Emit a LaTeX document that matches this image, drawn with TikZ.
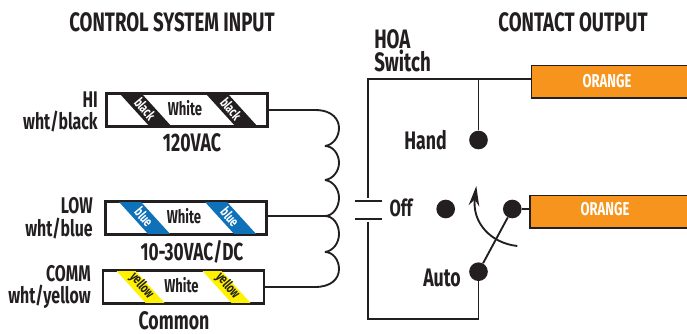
\documentclass[tikz,border=0pt]{standalone}
\usepackage{fontspec}
\setmainfont[FakeStretch=0.7]{Fira Sans}
\usepackage{tikz}
\usetikzlibrary{calc,arrows.meta}
\definecolor{cInk}{HTML}{231F20}
\definecolor{cOrange}{HTML}{F7941D}
\definecolor{cBlue}{HTML}{0F72B9}
\definecolor{cYellow}{HTML}{FFF200}
\tikzset{
  wire/.style={draw=cInk, line width=1.4pt},
  lbl/.style={inner sep=0pt, text=cInk, font=\fontsize{17}{17}\selectfont\bfseries},
  bigLbl/.style={inner sep=0pt, text=cInk, font=\fontsize{19}{17}\selectfont\bfseries},
  titleLbl/.style={inner sep=0pt, text=cInk, font=\fontsize{20}{20}\selectfont\bfseries},
  lead/.style={draw=cInk, line width=1.4pt, fill=white, inner sep=0pt, minimum width=120pt, minimum height=24.2pt},
  outbox/.style={draw=cInk, line width=1.4pt, fill=cOrange, inner sep=0pt, minimum height=24.2pt},
  contact/.style={circle, fill=cInk, inner sep=0pt, minimum size=14pt},
  outLbl/.style={inner sep=0pt, text=white, font=\fontsize{14}{14}\selectfont\bfseries},
}
\begin{document}
\begin{tikzpicture}[x=0.75pt,y=-0.75pt]
\useasboundingbox (0,0) rectangle (687,333);
\def\v{30}
\node[titleLbl] (inTitle) at (172,22) {CONTROL SYSTEM INPUT};
\node[titleLbl] (outTitle) at (573,22) {CONTACT OUTPUT};
\foreach \name/\x/\y/\u/\cBand/\cText/\sLabel in {hi/187/110/22/cInk/white/black, low/186/218/22/cBlue/white/blue, comm/183.5/287/19/cYellow/cInk/yellow}{
  \node[lead] (\name) at (\x,\y) {};
  \foreach \d in {13, 99}{
    \fill[\cBand] ($(\name.north west)+(\d,0)$) -- ++(\u,0) -- ++(\v,33) -- ++(-\u,0) -- cycle;
    \node[inner sep=0pt, text=\cText, rotate=-50, font=\fontsize{10.5}{11}\selectfont\bfseries] at ($(\name.north west)+(\d+26,16)$) {\sLabel};
  }
  \draw[wire] (\name.north west) rectangle (\name.south east);
  \node[inner sep=0pt, text=cInk, font=\fontsize{14}{14}\selectfont\bfseries] at ($(\name.center)+(-2,-2)$) {White};
}
\node[lbl, anchor=east, align=right] (hiLabel) at (98,112) {HI\\wht/black};
\node[lbl, anchor=east, align=right] (lowLabel) at (93,218) {LOW\\wht/blue};
\node[lbl, anchor=east, align=right] (commLabel) at (91,287) {COMM\\wht/yellow};
\node[bigLbl] (hiVolt) at (192,143) {120VAC};
\node[bigLbl, font=\fontsize{18.5}{17}\selectfont\bfseries] (lowVolt) at (192,252) {10-30VAC/DC};
\node[bigLbl] (commVolt) at (174,320.5) {Common};
\coordinate (c1) at (325,146);
\coordinate (c2) at (325,180);
\coordinate (c3) at (325,216);
\coordinate (c4) at (325,252);
\draw[wire] (hi.east) -- (315,110) .. controls (333,110) and (339,120) .. (339,128) .. controls (339,137) and (333,145) .. (c1);
\draw[wire] (c1) .. controls (333,146) and (339,154) .. (339,163) .. controls (339,171) and (333,179) .. (c2);
\draw[wire] (c2) .. controls (333,181) and (339,189) .. (339,198) .. controls (339,207) and (333,216) .. (c3) -- (low.east |- c3);
\draw[wire] (c3) .. controls (333,216) and (339,224) .. (339,234) .. controls (339,243) and (333,251) .. (c4);
\draw[wire] (c4) .. controls (333,252) and (339,260) .. (339,269) .. controls (339,279) and (331,287) .. (315,287) -- (comm.east);
\node[titleLbl, anchor=west, align=left, font=\fontsize{20}{17}\selectfont\bfseries] (hoa) at (374,51) {HOA\\Switch};
\node[outbox, anchor=north west, minimum width=170pt] (out1) at (530.5,64.5) {};
\node[outbox, anchor=north west, minimum width=170pt] (out2) at (529,194.5) {};
\node[outLbl] at (607,81) {ORANGE};
\node[outLbl] at (605,209) {ORANGE};
\node[bigLbl] (handLabel) at (425.5,140) {Hand};
\node[bigLbl, font=\fontsize{17.5}{17}\selectfont\bfseries] (offLabel) at (401,208) {Off};
\node[bigLbl] (autoLabel) at (442,278) {Auto};
\node[contact] (hand) at (478.5,140) {};
\node[contact] (off) at (445.7,209) {};
\node[contact] (thru) at (512.3,209) {};
\node[contact] (auto) at (478.5,271.7) {};
\coordinate (capTop) at (368.3,201.3);
\coordinate (capBot) at (368.3,218.7);
\coordinate (corner) at (368.3,79.3);
\draw[wire] (capTop) ++(0,-3) -- (corner) -- (out1.west |- corner);
\draw[wire] (hand) -- (hand |- corner);
\draw[wire] (capBot) ++(0,3) -- (368.3,319.3) -- (auto |- 0,319.3) -- (auto);
\draw[wire] ($(capTop)+(-13.5,0)$) -- ($(capTop)+(14,0)$);
\draw[wire] ($(capBot)+(-13.5,0)$) -- ($(capBot)+(14,0)$);
\draw[wire] (thru) -- (out2.west |- thru);
\draw[wire] (auto) -- (thru);
\draw[wire, -{Stealth[length=15pt,width=8pt]}] (517.3,246) .. controls (490,243) and (472,222) .. (476.3,186);
\end{tikzpicture}
\end{document}
